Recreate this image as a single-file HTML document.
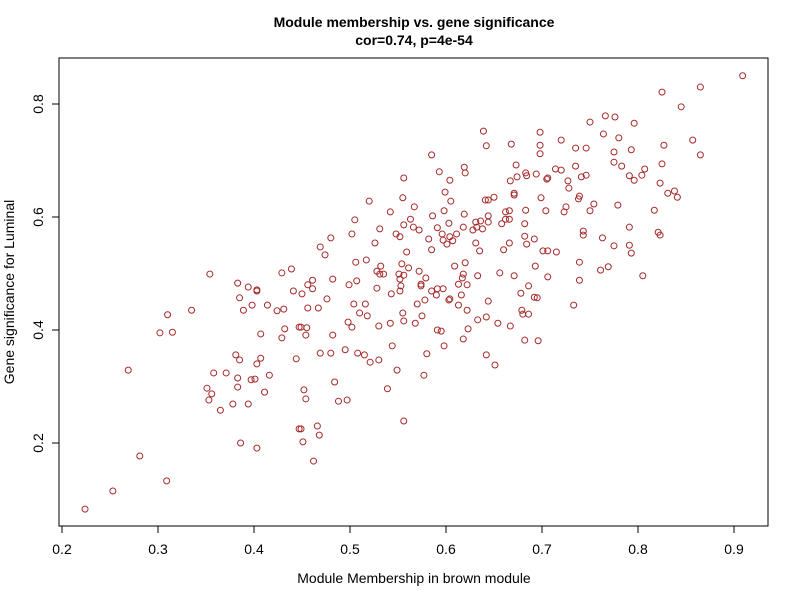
<!DOCTYPE html>
<html><head><meta charset="utf-8"><style>
body{margin:0;background:#fff;}
svg text{font-family:"Liberation Sans",Arial,sans-serif;}
</style></head><body>
<svg id="chart" width="800" height="600" viewBox="0 0 800 600" xmlns="http://www.w3.org/2000/svg">
<rect width="800" height="600" fill="#fff"/>
<text x="414" y="27" text-anchor="middle" font-size="14" font-weight="bold">Module membership vs. gene significance</text>
<text x="414" y="45" text-anchor="middle" font-size="14" font-weight="bold">cor=0.74, p=4e-54</text>
<rect x="59" y="58" width="709" height="468" fill="none" stroke="#000" stroke-width="1"/>
<text x="414" y="583" text-anchor="middle" font-size="14">Module Membership in brown module</text>
<text transform="translate(14,292) rotate(-90)" text-anchor="middle" font-size="14">Gene significance for Luminal</text>
<g id="axes"></g>
<g id="points"></g>
</svg>
<script>
const xTicks=[0.2,0.3,0.4,0.5,0.6,0.7,0.8,0.9];
const yTicks=[0.2,0.4,0.6,0.8];
const xs=[.354,.383,.394,.403,.403,.429,.439,.441,.385,.398,.414,.424,.431,.389,.310,.335,.302,.315,.407,.432,.429,.269,.381,.385,.407,.403,.358,.371,.383,.397,.401,.416,.351,.356,.353,.383,.411,.365,.378,.394,.386,.403,.281,.309,.253,.224,.444,.447,.447,
.619,.673,.593,.620,.683,.694,.684,.556,.604,.667,.674,.599,.671,.671,.555,.641,.644,.650,.520,.605,.567,.598,.542,.619,.662,.666,.683,.586,.644,.505,.563,.662,.666,.603,.631,.636,.644,.658,.682,.556,.566,.531,.572,.591,.618,.628,.632,.638,.502,.548,.552,.582,.596,.604,.611,.597,.601,.607,.480,.526,.682,.692,.684,.666,.631,.469,.474,.559,.585,.635,.660,.506,.517,.554,.532,.528,.531,.535,.551,.556,.561,.572,.609,.620,.618,.617,.633,.656,.671,.693,.461,.482,.456,.461,.499,.507,.552,.553,.528,.579,.574,.574,.613,.622,.450,.543,.552,.585,.591,.597,.590,.616,.678,.686,.692,.695,.476,.578,.604,.603,.644,.504,.516,.570,.613,.456,.467,.510,.518,.555,.622,.679,.680,.686,.575,.642,.633,.449,.455,.498,.502,.530,.542,.556,.568,.654,.667,.454,.482,.591,.595,.623,.618,.682,.696,.469,.480,.495,.508,.515,.521,.530,.544,.580,.598,.642,.651,.549,.577,.484,.452,.454,.488,.497,.539,.449,.466,.468,.451,.556,.462,
.909,.865,.825,.845,.750,.766,.776,.796,.698,.764,.780,.720,.857,.698,.735,.746,.827,.698,.775,.793,.865,.775,.783,.735,.825,.714,.720,.807,.705,.706,.727,.728,.741,.746,.791,.796,.804,.823,.831,.838,.841,.699,.739,.738,.704,.725,.723,.754,.750,.779,.817,.791,.821,.823,.743,.743,.763,.775,.791,.793,.701,.706,.715,.739,.761,.769,.706,.739,.805,.733,
.639,.642,.668,.585];
const ys=[.499,.483,.476,.471,.469,.501,.508,.469,.457,.444,.444,.434,.437,.435,.427,.435,.395,.396,.393,.402,.386,.329,.356,.347,.350,.340,.324,.324,.315,.312,.313,.320,.297,.287,.276,.299,.290,.258,.269,.269,.200,.191,.177,.133,.115,.083,.349,.225,.405,
.688,.692,.680,.678,.678,.676,.673,.669,.665,.664,.671,.644,.642,.639,.634,.630,.630,.635,.628,.628,.618,.611,.609,.605,.609,.611,.612,.602,.602,.595,.596,.596,.596,.589,.591,.593,.591,.588,.588,.586,.582,.579,.577,.581,.582,.577,.582,.579,.570,.570,.565,.561,.570,.565,.570,.559,.552,.558,.563,.554,.566,.561,.552,.554,.554,.547,.533,.538,.542,.540,.542,.520,.524,.517,.513,.504,.499,.499,.499,.497,.510,.504,.513,.519,.499,.492,.496,.501,.496,.513,.488,.490,.480,.473,.480,.487,.490,.478,.474,.492,.481,.478,.481,.480,.464,.464,.469,.469,.473,.473,.462,.462,.465,.478,.458,.457,.455,.453,.455,.453,.451,.446,.446,.446,.444,.439,.439,.430,.425,.430,.435,.435,.428,.428,.425,.423,.418,.405,.404,.414,.405,.407,.412,.416,.412,.412,.407,.391,.391,.400,.398,.402,.384,.382,.381,.359,.359,.365,.359,.356,.343,.347,.372,.358,.372,.356,.338,.329,.320,.308,.294,.278,.274,.276,.296,.225,.230,.214,.202,.239,.168,
.850,.830,.821,.795,.768,.779,.777,.766,.750,.747,.740,.736,.736,.727,.722,.722,.727,.712,.715,.719,.710,.697,.690,.690,.694,.685,.683,.685,.667,.669,.664,.651,.671,.674,.673,.665,.674,.660,.642,.646,.635,.634,.637,.632,.611,.618,.609,.623,.611,.621,.612,.582,.573,.568,.575,.568,.563,.549,.550,.536,.540,.540,.538,.520,.506,.512,.494,.488,.496,.444,
.752,.726,.729,.710];
const X=v=>62+(v-0.2)*960;
const Y=v=>443-(v-0.2)*565;
const NS="http://www.w3.org/2000/svg";
const axes=document.getElementById('axes');
const pts=document.getElementById('points');
function mk(tag,attrs,parent){const e=document.createElementNS(NS,tag);for(const k in attrs)e.setAttribute(k,attrs[k]);parent.appendChild(e);return e;}
xTicks.forEach(t=>{
  const l=mk('line',{x1:X(t),x2:X(t),y1:526,y2:533,stroke:'#000'},axes);
  
  
  const tx=mk('text',{x:X(t),y:554,'text-anchor':'middle','font-size':14},axes);
  tx.textContent=t.toFixed(1);
  
  
});
yTicks.forEach(t=>{
  const l=mk('line',{x1:52,x2:59,y1:Y(t),y2:Y(t),stroke:'#000'},axes);
  
  
  const tx=mk('text',{transform:`translate(43,${Y(t)}) rotate(-90)`,'text-anchor':'middle','font-size':14},axes);
  tx.textContent=t.toFixed(1);
  
  
});
xs.forEach((v,i)=>{
  const c=mk('circle',{cx:X(v),cy:Y(ys[i]),r:3,fill:'none',stroke:'#a52a2a','stroke-width':1},pts);
  
  
});
</script>
</body></html>
